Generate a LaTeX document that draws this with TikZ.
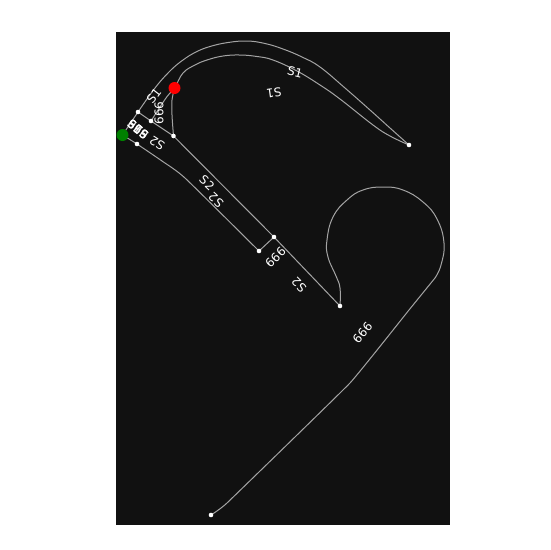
\documentclass[tikz,border=0pt]{standalone}
\usepackage{fontspec}
\setmainfont{DejaVu Sans}
\tikzset{
  road/.style={draw=roadgray,line width=1pt,line join=round},
  dot/.style={circle,fill=white,inner sep=0pt,minimum size=4.6pt},
  redend/.style={circle,fill=red,inner sep=0pt,minimum size=12pt},
  greenend/.style={circle,fill=green!50!black,inner sep=0pt,minimum size=12pt},
  lab/.style={text=white,font=\fontsize{12}{12}\selectfont,inner sep=0pt}
}
\definecolor{roadgray}{HTML}{A4A4A4}
\definecolor{panel}{HTML}{111111}
\begin{document}
\begin{tikzpicture}[x=1pt,y=-1pt]
\useasboundingbox (0,0) rectangle (550,550);
\fill[white] (0,0) rectangle (550,550);
\fill[panel] (116,32) rectangle (450,525);
\coordinate (a) at (138,112);
\coordinate (b) at (151,121);
\coordinate (c) at (173.5,136);
\coordinate (d) at (137,144);
\coordinate (e) at (259,251);
\coordinate (f) at (274,237);
\coordinate (g) at (340,306);
\coordinate (h) at (211,515);
\coordinate (i) at (409,145);
\coordinate (r) at (174.5,88);
\coordinate (v) at (122.5,135);
% outer S1
\draw[road] plot[smooth,tension=0.7] coordinates {(a) (155,88) (170,71) (183,60) (196,52) (210,46.5) (228,42.5) (247,41) (265,43.5) (283,49) (302,57) (320,67) (345,88) (370,110) (390,128) (i)};
% inner S1
\draw[road] plot[smooth,tension=0.7] coordinates {(b) (166,98) (r) (183,73) (195,65) (207,60) (223,56) (240,55) (257,56.5) (273,60) (297,71) (320,85) (340,99) (373,125) (390,136) (i)};
% crossing lines
\draw[road] (v) -- (a);
\draw[road] (a) -- (b) -- (c);
\draw[road] plot[smooth,tension=0.5] coordinates {(r) (172,100) (172,115) (c)};
\draw[road] (c) -- (f) -- (g);
\draw[road] (f) -- (e);
\draw[road] plot[smooth,tension=0.3] coordinates {(v) (d) (162,161) (185,178) (e)};
% loop
\draw[road] plot[smooth,tension=0.75] coordinates {(g) (340,288) (336,276) (328,257) (327,240) (333,217) (347,200) (363,190) (383,187) (403,190) (423,202) (437,219) (444,243) (441,265) (435,278)};
\draw[road] plot[smooth,tension=0.15] coordinates {(435,278) (409,310) (350,383) (227,503) (h)};
% nodes
\foreach \n in {a,b,c,d,e,f,g,h,i}{\node[dot] (dot\n) at (\n) {};}
\node[redend] (redn) at (r) {};
\node[greenend] (greenn) at (v) {};
% labels
\node[lab,rotate=52] (l1) at (154,96) {S1};
\node[lab,rotate=-14] (l2) at (295,72.5) {S1};
\node[lab,rotate=188] (l3) at (274,92.5) {S1};
\node[lab,rotate=90] (l4) at (159,113) {666};
\node[lab,rotate=148] (l5) at (157,143) {S2};
\node[lab,rotate=-43] (l6) at (207,183) {S2};
\node[lab,rotate=137] (l7) at (216,200) {S2};
\node[lab,rotate=45] (l8) at (275.5,257.5) {666};
\node[lab,rotate=135] (l9) at (299,285) {S2};
\node[lab,rotate=50] (l10) at (362.5,332.5) {666};
\node[lab,rotate=-40] (l11) at (138,129.5) {666};
\node[lab,rotate=140] (l12) at (138,129.5) {666};
\node[lab,rotate=-40] (l13) at (135,127) {S1};
\node[lab,rotate=140] (l14) at (141,132) {S2};
\end{tikzpicture}
\end{document}
